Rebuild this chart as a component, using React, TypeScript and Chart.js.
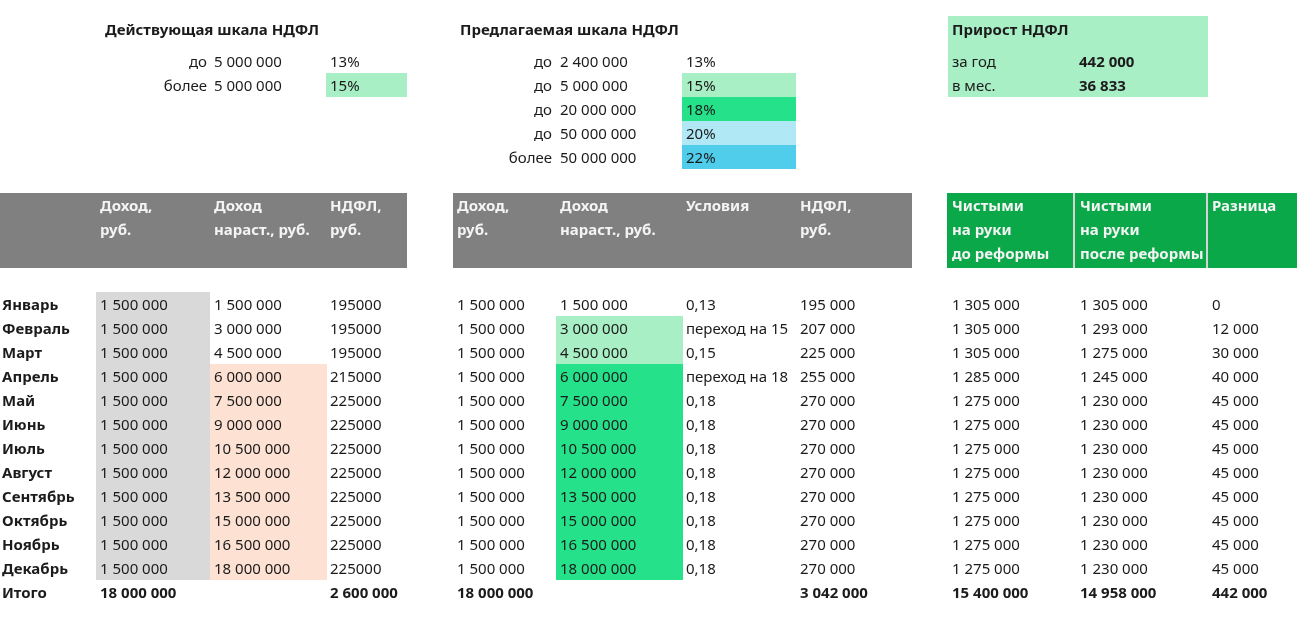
import React, { useEffect, useRef } from "react";
import { Chart, registerables } from "chart.js";

Chart.register(...registerables);

// ---------- DATA ----------
const months = ["Январь", "Февраль", "Март", "Апрель", "Май", "Июнь", "Июль", "Август", "Сентябрь", "Октябрь", "Ноябрь", "Декабрь"];
const incomeMonthly = [1500000, 1500000, 1500000, 1500000, 1500000, 1500000, 1500000, 1500000, 1500000, 1500000, 1500000, 1500000];
const incomeCumulative = [1500000, 3000000, 4500000, 6000000, 7500000, 9000000, 10500000, 12000000, 13500000, 15000000, 16500000, 18000000];
const ndflCurrent = [195000, 195000, 195000, 215000, 225000, 225000, 225000, 225000, 225000, 225000, 225000, 225000];
const ndflProposed = [195000, 207000, 225000, 255000, 270000, 270000, 270000, 270000, 270000, 270000, 270000, 270000];
const conditions = ["0,13", "переход на 15", "0,15", "переход на 18", "0,18", "0,18", "0,18", "0,18", "0,18", "0,18", "0,18", "0,18"];
const netBefore = [1305000, 1305000, 1305000, 1285000, 1275000, 1275000, 1275000, 1275000, 1275000, 1275000, 1275000, 1275000];
const netAfter = [1305000, 1293000, 1275000, 1245000, 1230000, 1230000, 1230000, 1230000, 1230000, 1230000, 1230000, 1230000];
const difference = [0, 12000, 30000, 40000, 45000, 45000, 45000, 45000, 45000, 45000, 45000, 45000];

const totalIncome = 18000000;
const totalNdflCurrent = 2600000;
const totalNdflProposed = 3042000;
const totalNetBefore = 15400000;
const totalNetAfter = 14958000;
const totalDifference = 442000;

const currentScaleWords = ["до", "более"];
const currentScaleLimits = [5000000, 5000000];
const currentScaleRates = ["13%", "15%"];

const proposedScaleWords = ["до", "до", "до", "до", "более"];
const proposedScaleLimits = [2400000, 5000000, 20000000, 50000000, 50000000];
const proposedScaleRates = ["13%", "15%", "18%", "20%", "22%"];

const growthLabels = ["за год", "в мес."];
const growthValues = [442000, 36833];

const titles = ["Действующая шкала НДФЛ", "Предлагаемая шкала НДФЛ", "Прирост НДФЛ"];

const headersLeft = [["Доход,", "руб."], ["Доход", "нараст., руб."], ["НДФЛ,", "руб."]];
const headersMid = [["Доход,", "руб."], ["Доход", "нараст., руб."], ["Условия"], ["НДФЛ,", "руб."]];
const headersRight = [["Чистыми", "на руки", "до реформы"], ["Чистыми", "на руки", "после реформы"], ["Разница"]];

// ---------- STYLE ----------
const FONT = "'Noto Sans', sans-serif";
const TEXT = "#1b1b1b";
const HEAD_TEXT = "#f4f4f4";
const GRAY_HEAD = "#808080";
const GREEN_HEAD = "#0ba84a";
const GRAY_FILL = "#d9d9d9";
const PEACH = "#fde1d3";
const proposedRateColors = ["rgba(0,0,0,0)", "#a9efc5", "#25e28a", "#b1e8f6", "#4fcdeb"];
const currentRateColors = ["rgba(0,0,0,0)", "#a9efc5"];

const fmt = (n: number) => String(n).replace(/\B(?=(\d{3})+(?!\d))/g, " ");

// Layout (sheet grid)
const ROW0 = 304;
const ROWH = 24;
const TEXT_DY = 1.5;
const colL = [2, 100, 214, 330];
const colM = [457, 560, 686, 800];
const colR = [952, 1080, 1212];

const tablePlugin = {
  id: "sheetTable",
  beforeDatasetsDraw(chart: any) {
    const ctx = chart.ctx as CanvasRenderingContext2D;
    const xs = chart.scales.x;
    const ys = chart.scales.y;
    const X = (v: number) => xs.getPixelForValue(v);
    const Y = (v: number) => ys.getPixelForValue(v);
    const rect = (x0: number, y0: number, x1: number, y1: number, c: string) => {
      ctx.fillStyle = c;
      const a = X(x0), b = Y(y0), cc = X(x1), d = Y(y1);
      ctx.fillRect(a, b, cc - a, d - b);
    };
    const text = (s: string, x: number, y: number, opts: any = {}) => {
      ctx.font = `${opts.bold ? "bold " : ""}${opts.size || 15}px ${FONT}`;
      ctx.fillStyle = opts.color || TEXT;
      ctx.textAlign = opts.align || "left";
      ctx.textBaseline = "middle";
      ctx.fillText(s, X(x), Y(y + TEXT_DY));
    };
    ctx.save();

    // ---- top blocks ----
    text(titles[0], 105, 29, { bold: true });
    currentScaleWords.forEach((w, i) => {
      const y = 61 + i * 24;
      rect(326, y - 12, 407, y + 12, currentRateColors[i]);
      text(w, 207, y, { align: "right" });
      text(fmt(currentScaleLimits[i]), 214, y);
      text(currentScaleRates[i], 330, y);
    });
    text(titles[1], 460, 29, { bold: true });
    proposedScaleWords.forEach((w, i) => {
      const y = 61 + i * 24;
      rect(682, y - 12, 796, y + 12, proposedRateColors[i]);
      text(w, 552, y, { align: "right" });
      text(fmt(proposedScaleLimits[i]), 560, y);
      text(proposedScaleRates[i], 686, y);
    });
    rect(948, 16, 1208, 97, "#a9efc5");
    text(titles[2], 952, 29, { bold: true });
    growthLabels.forEach((l, i) => {
      const y = 61 + i * 24;
      text(l, 952, y);
      text(fmt(growthValues[i]), 1079, y, { bold: true });
    });

    // ---- headers ----
    rect(0, 193, 407, 268, GRAY_HEAD);
    rect(453, 193, 912, 268, GRAY_HEAD);
    rect(947, 193, 1297, 268, GREEN_HEAD);
    rect(1073, 193, 1075, 268, "#d4d4d4");
    rect(1206, 193, 1208, 268, "#d4d4d4");
    const hdr = (cols: string[][], xsArr: number[]) =>
      cols.forEach((lines, c) =>
        lines.forEach((ln, k) => text(ln, xsArr[c], 205 + k * 24, { bold: true, color: HEAD_TEXT }))
      );
    hdr(headersLeft, colL.slice(1));
    hdr(headersMid, colM);
    hdr(headersRight, colR);

    // ---- body fills ----
    months.forEach((_, i) => {
      const top = ROW0 - 12 + i * ROWH;
      rect(96, top, 210, top + ROWH, GRAY_FILL);
      const cum = incomeCumulative[i];
      if (cum > currentScaleLimits[0]) rect(210, top, 327, top + ROWH, PEACH);
      let b = 0;
      for (let k = 0; k < 3; k++) if (cum > proposedScaleLimits[k]) b = k + 1;
      if (b > 0) rect(556, top, 683, top + ROWH, proposedRateColors[b]);
    });

    // ---- body text ----
    months.forEach((m, i) => {
      const y = ROW0 + i * ROWH;
      text(m, colL[0], y, { bold: true });
      text(fmt(incomeMonthly[i]), colL[1], y);
      text(fmt(incomeCumulative[i]), colL[2], y);
      text(String(ndflCurrent[i]), colL[3], y);
      text(fmt(incomeMonthly[i]), colM[0], y);
      text(fmt(incomeCumulative[i]), colM[1], y);
      text(conditions[i], colM[2], y);
      text(fmt(ndflProposed[i]), colM[3], y);
      text(fmt(netBefore[i]), colR[0], y);
      text(fmt(netAfter[i]), colR[1], y);
      text(fmt(difference[i]), colR[2], y);
    });
    const ty = ROW0 + months.length * ROWH;
    text("Итого", colL[0], ty, { bold: true });
    text(fmt(totalIncome), colL[1], ty, { bold: true });
    text(fmt(totalNdflCurrent), colL[3], ty, { bold: true });
    text(fmt(totalIncome), colM[0], ty, { bold: true });
    text(fmt(totalNdflProposed), colM[3], ty, { bold: true });
    text(fmt(totalNetBefore), colR[0], ty, { bold: true });
    text(fmt(totalNetAfter), colR[1], ty, { bold: true });
    text(fmt(totalDifference), colR[2], ty, { bold: true });

    ctx.restore();
  },
};

export default function App() {
  const ref = useRef<HTMLCanvasElement | null>(null);
  useEffect(() => {
    if (!ref.current) return;
    const chart = new Chart(ref.current, {
      type: "scatter",
      data: { datasets: [{ data: [], pointRadius: 0 }] },
      options: {
        animation: false,
        responsive: false,
        devicePixelRatio: 1,
        layout: { padding: 0 },
        plugins: { legend: { display: false }, tooltip: { enabled: false } },
        scales: {
          x: { type: "linear", min: 0, max: 1297, display: false },
          y: { type: "linear", min: 0, max: 617, reverse: true, display: false },
        },
      },
      plugins: [tablePlugin],
    });
    return () => chart.destroy();
  }, []);
  return (
    <div style={{ position: "fixed", left: 0, top: 0, width: 1297, height: 617, background: "#fff" }}>
      <canvas ref={ref} width={1297} height={617} />
    </div>
  );
}
